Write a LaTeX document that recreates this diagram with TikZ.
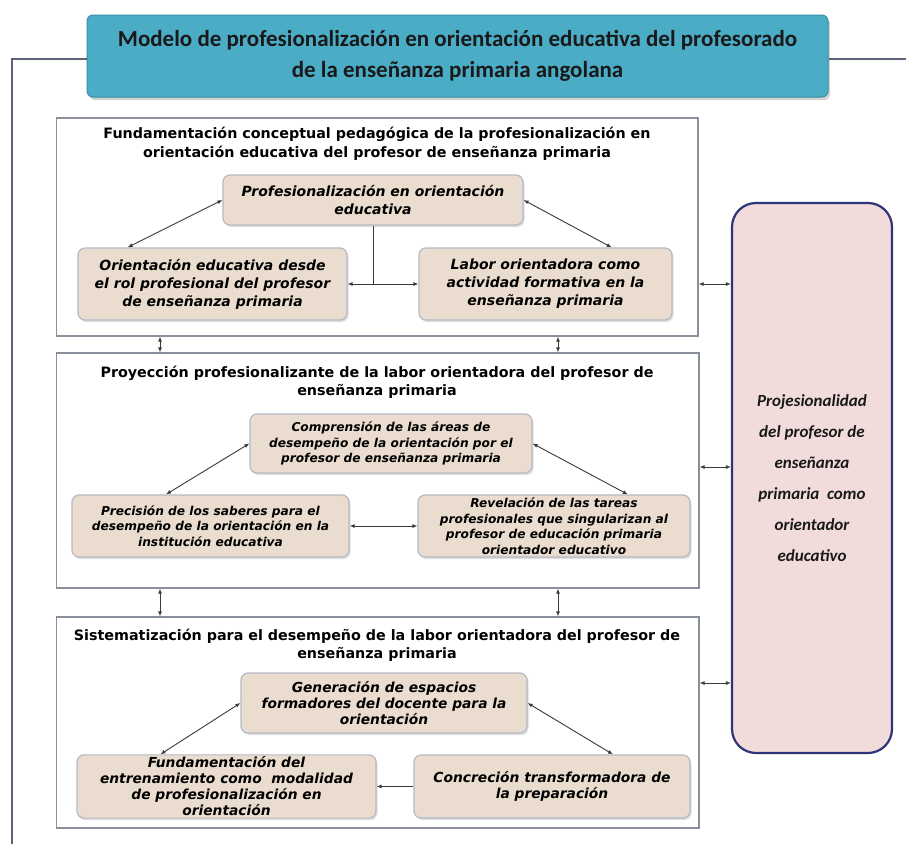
\documentclass[tikz,border=0pt]{standalone}
\usepackage{fontspec}
\setmainfont{Carlito}
\newfontfamily\dv{DejaVu Sans}
\usetikzlibrary{arrows.meta,shadows,calc}
\definecolor{teal1}{HTML}{4BACC6}
\definecolor{teal2}{HTML}{3B8DA5}
\definecolor{frameln}{HTML}{5B6377}
\definecolor{panelln}{HTML}{8A8F9C}
\definecolor{nodeln}{HTML}{B5B9C5}
\definecolor{nodefill}{HTML}{EADDCF}
\definecolor{pinkfill}{HTML}{F2DCDB}
\definecolor{pinkln}{HTML}{2F3377}
\definecolor{arr}{HTML}{3A3A3A}
\begin{document}
\begin{tikzpicture}[x=1pt,y=-1pt,
  titlebox/.style={draw=teal2,line width=1pt,fill=teal1,rounded corners=6pt,
    drop shadow={shadow xshift=2pt,shadow yshift=-3pt,opacity=0.35},
    minimum width=741pt,minimum height=82pt,align=center,inner sep=2pt,
    text=black!90,font=\bfseries\fontsize{23}{31}\selectfont},
  panel/.style={draw=panelln,line width=1.2pt,fill=white},
  ptitle/.style={align=center,inner sep=0pt,font=\dv\bfseries\fontsize{14.3}{18.5}\selectfont},
  cbox/.style={draw=nodeln,line width=1.2pt,fill=nodefill,rounded corners=7pt,
    drop shadow={shadow xshift=1.5pt,shadow yshift=-2pt,opacity=0.25},
    align=center,inner sep=2pt},
  fA/.style={font=\dv\bfseries\itshape\fontsize{14}{18}\selectfont},
  fB/.style={font=\dv\bfseries\itshape\fontsize{12.2}{15.5}\selectfont},
  fC/.style={font=\dv\bfseries\itshape\fontsize{13.8}{16}\selectfont},
  conn/.style={draw=arr,line width=0.9pt},
  biarrow/.style={conn,{Latex[length=5pt,width=4pt]}-{Latex[length=5pt,width=4pt]}},
  onearrow/.style={conn,-{Latex[length=5pt,width=4pt]}},
  pinkbox/.style={draw=pinkln,line width=2.2pt,fill=pinkfill,rounded corners=24pt,
    minimum width=160pt,minimum height=550pt,align=center,
    text=black!90,font=\bfseries\itshape\fontsize{17}{31}\selectfont}
]
\useasboundingbox (0,0) rectangle (906,844);
\fill[white] (0,0) rectangle (906,844);

% outer frame lines
\coordinate (fl) at (12,844);
\coordinate (fr) at (906,0);
\node[titlebox] (T) at (457.5,56) {Modelo de profesionalización en orientación educativa del profesorado\\de la enseñanza primaria angolana};
\coordinate (TW) at ($(T.west)+(0,3)$);
\coordinate (TE) at ($(T.east)+(0,3)$);
\draw[frameln,line width=2pt] (TW) -- (TW -| fl) -- (fl);
\draw[frameln,line width=2pt] (TE) -- (TE -| fr);

% panels
\node[panel,minimum width=641.5pt,minimum height=218pt,inner sep=0pt] (P1) at (377.25,227) {};
\node[panel,minimum width=642.5pt,minimum height=235pt,inner sep=0pt] (P2) at (377.75,470.5) {};
\node[panel,minimum width=642.5pt,minimum height=211pt,inner sep=0pt] (P3) at (377.75,722.5) {};

\node[ptitle] (H1) at (377,144) {Fundamentación conceptual pedagógica de la profesionalización en\\orientación educativa del profesor de enseñanza primaria};
\node[ptitle] (H2) at (377,382.5) {Proyección profesionalizante de la labor orientadora del profesor de\\enseñanza primaria};
\node[ptitle] (H3) at (377,645.5) {Sistematización para el desempeño de la labor orientadora del profesor de\\enseñanza primaria};

% panel 1 nodes
\node[cbox,fA,minimum width=300pt,minimum height=50pt] (T1) at (373,200) {Profesionalización en orientación\\educativa};
\node[cbox,fA,minimum width=269pt,minimum height=72pt] (L1) at (212.5,284) {Orientación educativa desde\\el rol profesional del profesor\\de enseñanza primaria};
\node[cbox,fA,minimum width=253pt,minimum height=72pt] (R1) at (545.5,284) {Labor orientadora como\\actividad formativa en la\\enseñanza primaria};

% panel 2 nodes
\node[cbox,fB,minimum width=282pt,minimum height=59pt] (T2) at (391,443.5) {Comprensión de las áreas de\\desempeño de la orientación por el\\profesor de enseñanza primaria};
\node[cbox,fB,minimum width=277pt,minimum height=62pt] (L2) at (210.5,526) {Precisión de los saberes para el\\desempeño de la orientación en la\\institución educativa};
\node[cbox,fB,minimum width=272pt,minimum height=62pt] (R2) at (554,526) {Revelación de las tareas\\profesionales que singularizan al\\profesor de educación primaria\\orientador educativo};

% panel 3 nodes
\node[cbox,fC,minimum width=286pt,minimum height=60pt] (T3) at (384,703) {Generación de espacios\\formadores del docente para la\\orientación};
\node[cbox,fC,minimum width=299pt,minimum height=63pt] (L3) at (226.5,786.5) {Fundamentación del\\entrenamiento como\ \ modalidad\\de profesionalización en\\orientación};
\node[cbox,fC,minimum width=276pt,minimum height=63pt] (R3) at (552,786.5) {Concreción transformadora de\\la preparación};

% pink box
\node[pinkbox] (PB) at (812,478) {Projesionalidad\\del profesor de\\enseñanza\\primaria\ \ como\\orientador\\educativo};

% connectors panel 1
\draw[biarrow] (T1.west) -- ($(L1.north west)!0.186!(L1.north east)$);
\draw[biarrow] (T1.east) -- ($(R1.north west)!0.76!(R1.north east)$);
\coordinate (J1) at (373,284);
\draw[conn] (T1.south) -- (J1);
\draw[onearrow] (J1) -- (L1.east);
\draw[onearrow] (J1) -- (R1.west);

% connectors panel 2
\draw[biarrow] (T2.west) -- ($(L2.north west)!0.34!(L2.north east)$);
\draw[biarrow] (T2.east) -- ($(R2.north west)!0.77!(R2.north east)$);
\draw[biarrow] (L2.east) -- (R2.west);

% connectors panel 3
\draw[biarrow] (T3.west) -- ($(L3.north west)!0.28!(L3.north east)$);
\draw[biarrow] (T3.east) -- ($(R3.north west)!0.72!(R3.north east)$);
\draw[onearrow] (R3.west) -- (L3.east);

% between panels
\coordinate (ca) at (160,0);
\coordinate (cb) at (558,0);
\draw[biarrow] (P1.south -| ca) -- (P2.north -| ca);
\draw[biarrow] (P1.south -| cb) -- (P2.north -| cb);
\draw[biarrow] (P2.south -| ca) -- (P3.north -| ca);
\draw[biarrow] (P2.south -| cb) -- (P3.north -| cb);

% to pink box
\coordinate (r1) at (0,284);
\coordinate (r2) at (0,467);
\coordinate (r3) at (0,683);
\draw[biarrow] (P1.east |- r1) -- (PB.west |- r1);
\draw[biarrow] (P2.east |- r2) -- (PB.west |- r2);
\draw[biarrow] (P3.east |- r3) -- (PB.west |- r3);
\end{tikzpicture}
\end{document}
